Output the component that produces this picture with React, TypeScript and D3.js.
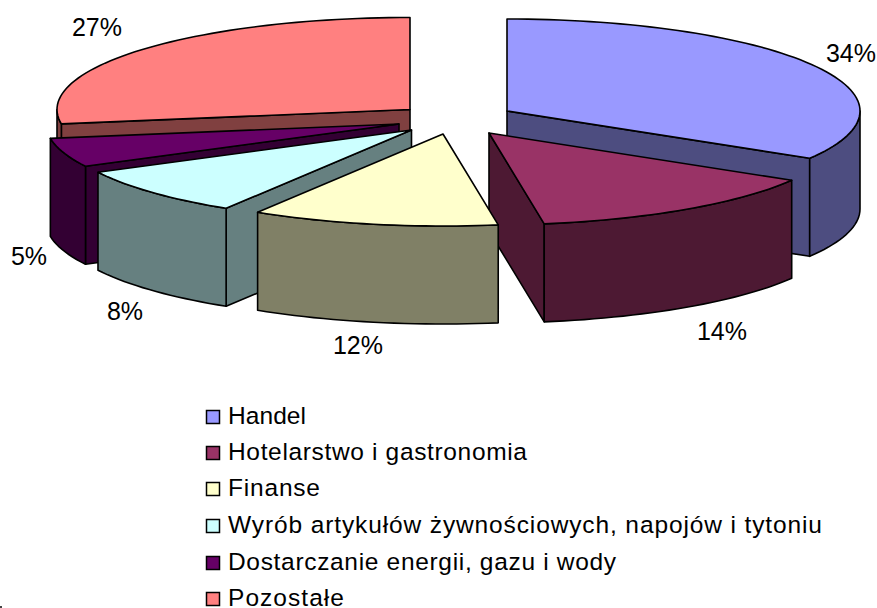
import * as d3 from 'd3';
import React, { useEffect, useRef } from 'react';

// chart data
const categories = [
	'Handel',
	'Hotelarstwo i gastronomia',
	'Finanse',
	'Wyrób artykułów żywnościowych, napojów i tytoniu',
	'Dostarczanie energii, gazu i wody',
	'Pozostałe',
];
const shares = [33.6, 13.9, 11.3, 8.6, 5.1, 27.5];
const percentLabels = ['34%', '14%', '12%', '8%', '5%', '27%'];
const topColors = ['#9999FF', '#993366', '#FFFFCC', '#CCFFFF', '#660066', '#FF8080'];
const sideColors = ['#4D4D80', '#4D1933', '#808066', '#668080', '#330033', '#804040'];

// layout of the exploded pie
const width = 877;
const height = 608;
const rx = 353;
const ry = 92;
const depth = 98;
const apexes = [[507, 111], [489, 133], [443, 134], [411.5, 130], [399, 124], [410, 109.5]];
const labelSpots = [[851, 53], [722, 331], [358, 345], [125, 311], [29, 256], [97, 27]];
const paintOrder = [0, 1, 5, 4, 3, 2];
const legendX = 206;
const legendBoxes = [417, 453, 489, 526, 563, 599];
const legendBaselines = [423.5, 460, 496, 533, 570, 606];
const legendWidths = [78, 299, 92, 594, 388, 116];
const font = '"Liberation Sans", Arial, sans-serif';

const App = () => {
	const chartRef = useRef<SVGSVGElement>(null);

	useEffect(() => {
		const svg = d3.select(chartRef.current);
		svg.selectAll('*').remove();

		const pie = d3.pie<number>().sort(null).value((d) => d);
		const arcs = pie(shares);

		const line = d3.line();
		const g = svg.append('g').attr('stroke', '#000').attr('stroke-width', 1.6).attr('stroke-linejoin', 'round');

		paintOrder.forEach((i) => {
			const arc = arcs[i];
			const [cx, cy] = apexes[i];
			const rim = (a: number): [number, number] => [cx + rx * Math.sin(a), cy - ry * Math.cos(a)];
			const down = (p: [number, number]): [number, number] => [p[0], p[1] + depth];
			const sweep = (a0: number, a1: number) => {
				const n = Math.max(2, Math.ceil((a1 - a0) / 0.03));
				return d3.range(n + 1).map((k) => rim(a0 + ((a1 - a0) * k) / n));
			};

			const addSide = (pts: [number, number][]) =>
				g.append('path').attr('d', line(pts) + 'Z').attr('fill', sideColors[i]);

			// cut faces, only those turned towards the viewer
			if (Math.sin(arc.startAngle) < -1e-6) {
				const p = rim(arc.startAngle);
				addSide([[cx, cy], p, down(p), [cx, cy + depth]]);
			}
			if (Math.sin(arc.endAngle) > 1e-6) {
				const p = rim(arc.endAngle);
				addSide([[cx, cy], p, down(p), [cx, cy + depth]]);
			}

			// outer wall, front half of the rim only
			const a0 = Math.max(arc.startAngle, Math.PI / 2);
			const a1 = Math.min(arc.endAngle, (3 * Math.PI) / 2);
			if (a1 > a0) {
				const upper = sweep(a0, a1);
				addSide([...upper, ...upper.map(down).reverse()]);
			}

			// top face
			const top = sweep(arc.startAngle, arc.endAngle);
			g.append('path').attr('d', line([[cx, cy], ...top]) + 'Z').attr('fill', topColors[i]);
		});

		// percentage labels
		svg.append('g')
			.selectAll('text')
			.data(percentLabels)
			.enter().append('text')
			.attr('x', (d, i) => labelSpots[i][0])
			.attr('y', (d, i) => labelSpots[i][1])
			.attr('text-anchor', 'middle')
			.attr('dominant-baseline', 'central')
			.attr('font-family', font)
			.attr('font-size', 25)
			.attr('fill', '#000')
			.text((d) => d);

		// legend
		const legend = svg.append('g')
			.selectAll('g')
			.data(categories)
			.enter().append('g');

		legend.append('rect')
			.attr('x', legendX + 0.5)
			.attr('y', (d, i) => legendBoxes[i] - 6.5)
			.attr('width', 13)
			.attr('height', 13)
			.attr('fill', (d, i) => topColors[i])
			.attr('stroke', '#000')
			.attr('stroke-width', 1.5);

		legend.append('text')
			.attr('x', legendX + 22)
			.attr('y', (d, i) => legendBaselines[i])
			.attr('font-family', font)
			.attr('font-size', 24.5)
			.attr('textLength', (d, i) => legendWidths[i])
			.attr('lengthAdjust', 'spacing')
			.attr('fill', '#000')
			.text((d) => d);

		// small stray mark at the bottom-left corner of the original
		svg.append('rect')
			.attr('x', 0)
			.attr('y', 606)
			.attr('width', 2)
			.attr('height', 2)
			.attr('fill', '#444');
	}, []);

	return (
		<svg
			ref={chartRef}
			width={width}
			height={height}
			style={{ position: 'absolute', left: 0, top: 0, background: '#fff' }}
		/>
	);
};

export default App;
